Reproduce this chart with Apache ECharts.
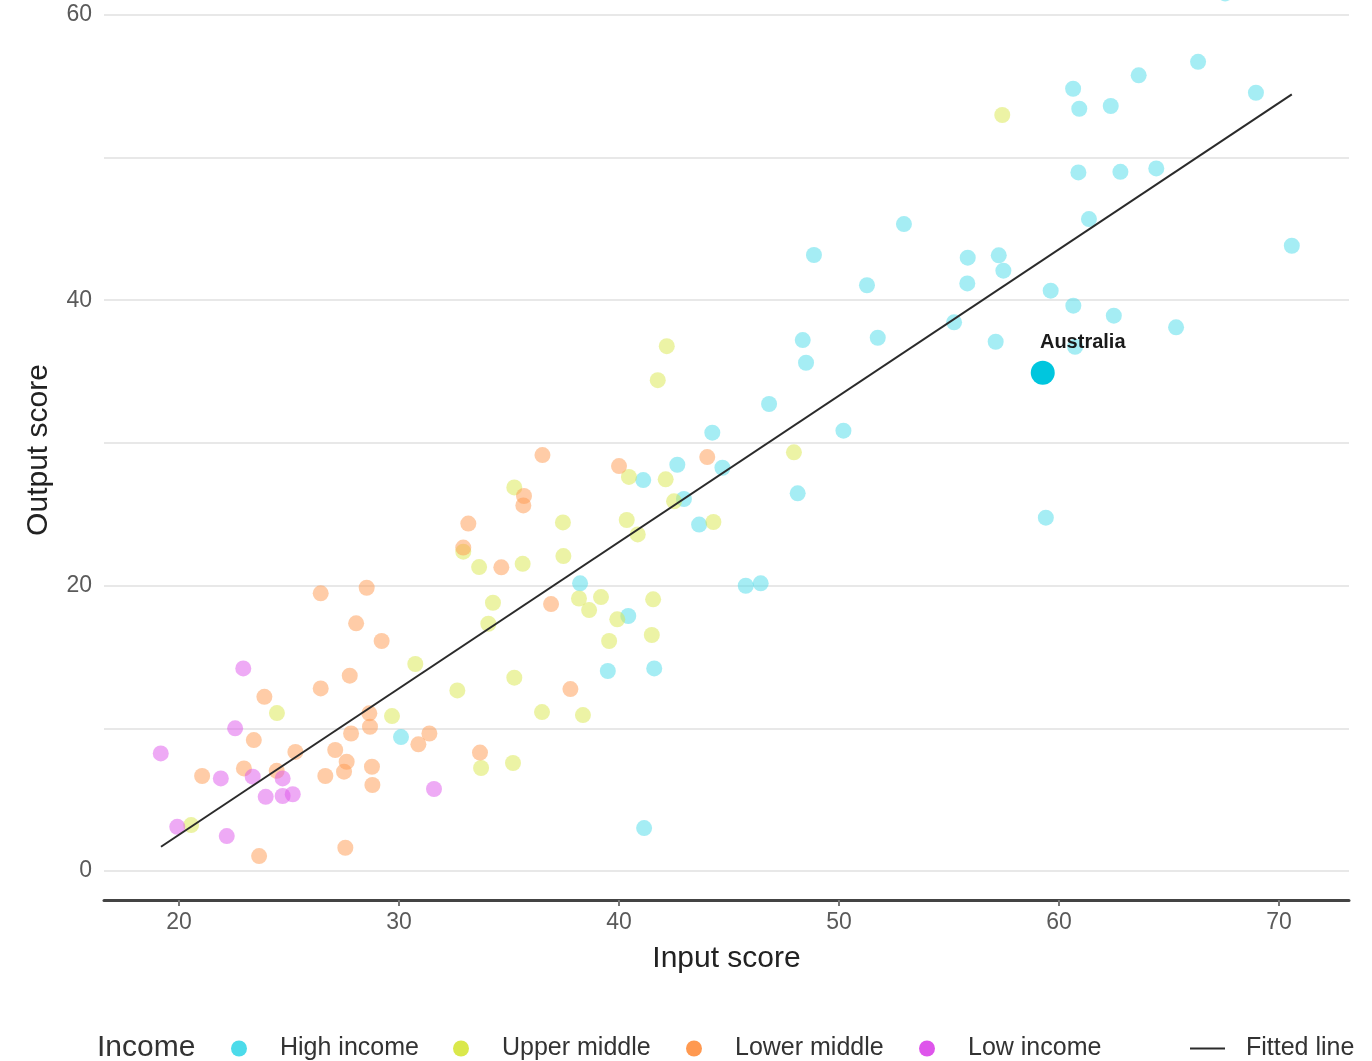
<!DOCTYPE html>
<html>
<head>
<meta charset="utf-8">
<title>Input vs output score</title>
<script src="https://cdn.jsdelivr.net/npm/echarts@6/dist/echarts.min.js"></script>
<style>
  html, body { margin: 0; padding: 0; background: #ffffff; }
  #chart { width: 1372px; height: 1061px; }
</style>
</head>
<body>
<div id="chart"></div>
<script>
// Country scores by income group: [input score, output score]
const highIncome = [
  [66.32, 56.71], [63.62, 55.76], [60.64, 54.82], [68.95, 54.54], [60.92, 53.42],
  [62.35, 53.61], [60.88, 48.96], [62.79, 49.00], [64.42, 49.24], [61.36, 45.69],
  [52.95, 45.34], [48.86, 43.17], [55.85, 42.98], [57.26, 43.15], [57.47, 42.07],
  [70.58, 43.82], [51.27, 41.05], [55.83, 41.18], [59.62, 40.67], [60.65, 39.62],
  [62.49, 38.92], [65.32, 38.10], [55.23, 38.45], [51.76, 37.37], [48.35, 37.21],
  [57.12, 37.09], [60.73, 36.74], [48.50, 35.62], [46.82, 32.73], [50.20, 30.86],
  [44.24, 30.72], [42.65, 28.47], [41.10, 27.40], [44.70, 28.26], [42.95, 26.07],
  [48.12, 26.47], [43.64, 24.28], [59.40, 24.76], [38.23, 20.16], [45.76, 19.99],
  [46.44, 20.16], [40.42, 17.87], [39.49, 14.02], [41.60, 14.20], [30.09, 9.39],
  [41.14, 3.01], [67.55, 61.50]
];
const upperMiddle = [
  [57.42, 52.98], [42.17, 36.78], [41.76, 34.40], [40.45, 27.62], [42.12, 27.45],
  [47.95, 29.34], [35.24, 26.88], [42.50, 25.91], [37.45, 24.43], [40.35, 24.60],
  [44.29, 24.46], [40.85, 23.59], [32.92, 22.38], [37.47, 22.07], [33.64, 21.30],
  [35.62, 21.53], [34.27, 18.80], [34.06, 17.33], [38.18, 19.10], [39.18, 19.20],
  [38.64, 18.29], [41.55, 19.04], [39.92, 17.64], [39.55, 16.12], [41.49, 16.54],
  [30.74, 14.51], [35.24, 13.55], [32.65, 12.66], [36.50, 11.14], [38.36, 10.93],
  [29.68, 10.86], [24.45, 11.07], [35.18, 7.57], [33.73, 7.22], [20.55, 3.22]
];
const lowerMiddle = [
  [36.52, 29.15], [40.00, 28.38], [44.01, 29.01], [35.68, 26.28], [35.65, 25.62],
  [33.15, 24.35], [32.92, 22.67], [34.65, 21.28], [36.91, 18.71], [37.79, 12.75],
  [31.38, 9.64], [26.44, 19.46], [28.53, 19.85], [28.05, 17.36], [29.21, 16.12],
  [27.76, 13.69], [26.44, 12.80], [23.88, 12.21], [28.65, 11.05], [28.68, 10.11],
  [27.82, 9.64], [30.88, 8.88], [23.40, 9.18], [25.29, 8.35], [27.10, 8.48],
  [33.68, 8.30], [22.95, 7.19], [24.44, 7.02], [21.05, 6.66], [27.62, 7.66],
  [27.50, 6.96], [26.65, 6.66], [28.77, 7.31], [28.79, 6.03], [27.56, 1.63],
  [23.64, 1.05]
];
const lowIncome = [
  [22.92, 14.20], [22.55, 10.00], [19.17, 8.24], [21.90, 6.49], [23.35, 6.61],
  [24.71, 6.49], [23.94, 5.20], [24.71, 5.26], [25.17, 5.38], [31.59, 5.75],
  [19.92, 3.10], [22.17, 2.45]
];
const highlighted = [[59.26, 34.92]];
const highlightedName = 'Australia';

// Linear fit drawn across the input-score range
const fitX = [19.18, 70.58];
const fitY = [1.70, 54.43];

const groupNames = ['High income', 'Upper middle', 'Lower middle', 'Low income'];
const groupColors = ['#4cdbea', '#dae84b', '#ff9950', '#de55eb'];
const groupData = [highIncome, upperMiddle, lowerMiddle, lowIncome];
const fitName = 'Fitted line';

const xTicks = [20, 30, 40, 50, 60, 70];
const yGrid = [0, 10, 20, 30, 40, 50, 60];
const yTicks = [0, 20, 40, 60];

const FONT = '"Liberation Sans", Arial, Helvetica, sans-serif';

const chart = echarts.init(document.getElementById('chart'), null, { renderer: 'canvas' });

const scatterSeries = groupNames.map((name, i) => ({
  name: name,
  type: 'scatter',
  data: groupData[i],
  symbol: 'circle',
  symbolSize: 16,
  clip: false,
  itemStyle: { color: groupColors[i], opacity: 0.5 },
  emphasis: { disabled: true },
  z: 2
}));

// One legend block per entry so each key sits at its own spot on the row
const legendLefts = [226, 448, 681, 914];
const legends = groupNames.map((name, i) => ({
  data: [name],
  left: legendLefts[i],
  top: 1031,
  orient: 'horizontal',
  itemWidth: 16,
  itemHeight: 23,
  icon: 'path://M0,1a1,1 0 1,0 2,0a1,1 0 1,0 -2,0z',
  itemStyle: { opacity: 1 },
  selectedMode: false,
  textStyle: { fontFamily: FONT, fontSize: 25, color: '#333333', padding: [0, 0, 0, 28] }
}));
legends.push({
  data: [fitName],
  left: 1185,
  top: 1031,
  itemWidth: 35,
  itemHeight: 23,
  icon: 'path://M0,11h35v2h-35z',
  selectedMode: false,
  textStyle: { fontFamily: FONT, fontSize: 25, color: '#333333', padding: [0, 0, 0, 16] }
});

const option = {
  animation: false,
  backgroundColor: '#ffffff',
  textStyle: { fontFamily: FONT },
  grid: { left: 104, right: 23, top: 0, bottom: 161, containLabel: false },
  xAxis: {
    type: 'value',
    min: 16.59,
    max: 73.18,
    name: 'Input score',
    nameLocation: 'middle',
    nameGap: 44,
    nameTextStyle: { fontFamily: FONT, fontSize: 30, color: '#222222' },
    axisLine: { show: true, onZero: false, lineStyle: { color: '#444444', width: 3 } },
    axisTick: { show: true, length: 6, customValues: xTicks, lineStyle: { color: '#777777', width: 2 } },
    axisLabel: { customValues: xTicks, margin: 11, fontFamily: FONT, fontSize: 23, color: '#5a5a5a' },
    splitLine: { show: false }
  },
  yAxis: {
    type: 'value',
    min: -2.03,
    max: 61.04,
    name: 'Output score',
    nameLocation: 'middle',
    nameGap: 50,
    nameRotate: 90,
    nameTextStyle: { fontFamily: FONT, fontSize: 30, color: '#222222' },
    axisLine: { show: false, onZero: false },
    axisTick: { show: false, customValues: yGrid },
    axisLabel: { customValues: yTicks, margin: 12, fontFamily: FONT, fontSize: 23, color: '#5a5a5a' },
    splitLine: { show: true, lineStyle: { color: '#e8e8e8', width: 2 } }
  },
  legend: legends,
  graphic: [{
    type: 'text',
    left: 97,
    top: 1033,
    style: { text: 'Income', font: '30px ' + FONT, fill: '#333333' }
  }],
  series: scatterSeries.concat([
    {
      name: fitName,
      type: 'line',
      data: fitX.map((x, i) => [x, fitY[i]]),
      symbol: 'none',
      color: '#2b2b2b',
      lineStyle: { color: '#2b2b2b', width: 2 },
      emphasis: { disabled: true },
      z: 3
    },
    {
      name: highlightedName,
      type: 'scatter',
      data: highlighted,
      symbolSize: 24,
      itemStyle: { color: '#00c6de', opacity: 1 },
      emphasis: { disabled: true },
      label: {
        show: true,
        position: 'inside',
        offset: [40, -30],
        formatter: highlightedName,
        fontFamily: FONT,
        fontSize: 20,
        fontWeight: 'bold',
        color: '#1a1a1a'
      },
      z: 4
    }
  ])
};

chart.setOption(option);
</script>
</body>
</html>
